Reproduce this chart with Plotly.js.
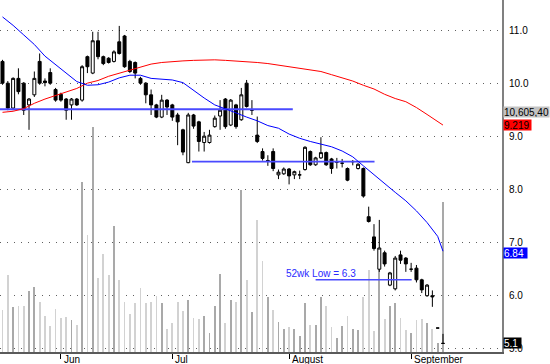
<!DOCTYPE html>
<html>
<head>
<meta charset="utf-8">
<script src="https://cdn.plot.ly/plotly-3.0.1.min.js"></script>
<style>
html,body{margin:0;padding:0;background:#fff;}
#chart{width:550px;height:364px;}
</style>
</head>
<body>
<div id="chart"></div>
<script>
// ---- data (trading-day index 0..83) ----
const openP  = [10.42,10.01,9.54,10.10,10.01,9.60,9.79,10.42,10.05,10.21,9.89,9.80,9.71,9.60,9.71,9.69,10.51,10.20,10.81,10.51,10.48,10.42,10.79,10.90,10.42,10.40,10.10,10.01,9.79,9.60,9.37,9.69,9.60,9.41,9.13,8.51,9.41,9.28,8.89,8.89,9.19,9.39,9.71,9.22,9.60,9.32,10.01,9.50,9.03,8.72,8.55,8.72,8.28,8.30,8.39,8.28,8.28,8.38,8.72,8.47,8.60,8.70,8.58,8.52,8.50,8.40,8.53,8.40,8.40,7.49,7.11,6.50,6.81,6.20,6.13,6.77,6.71,6.50,6.52,6.30,6.00,6.00,5.39,5.10];
const highP  = [10.45,10.05,10.12,10.29,10.03,9.73,10.23,10.57,10.10,10.29,9.92,9.83,9.73,9.73,9.73,10.35,10.53,10.98,10.98,10.53,10.50,10.63,11.09,10.92,10.45,10.42,10.13,10.03,9.89,9.62,9.79,9.71,9.62,9.45,9.15,9.45,9.43,9.30,9.09,9.13,9.40,9.69,9.73,9.71,9.62,9.92,10.07,9.69,9.38,8.78,8.65,8.78,8.38,8.42,8.41,8.36,8.36,8.82,8.74,8.62,8.99,8.72,8.60,8.60,8.58,8.42,8.56,8.50,8.42,7.68,7.35,7.43,6.85,6.45,6.75,6.85,6.73,6.62,6.58,6.32,6.22,6.10,5.39,5.28];
const lowP   = [9.98,9.50,9.50,9.80,9.41,9.13,9.75,9.98,9.95,9.98,9.66,9.66,9.32,9.32,9.58,9.66,10.20,10.18,10.46,10.35,10.38,10.40,10.55,10.30,10.20,10.10,9.98,9.63,9.41,9.35,9.35,9.41,9.30,8.84,8.65,8.50,9.15,8.72,8.72,8.87,9.17,9.13,9.15,9.20,9.15,9.30,9.55,9.41,8.88,8.55,8.45,8.35,8.20,8.28,8.10,8.20,8.20,8.36,8.45,8.45,8.58,8.45,8.30,8.40,8.42,8.16,8.46,8.38,7.85,7.38,6.85,6.45,6.55,6.18,6.10,6.60,6.45,6.45,6.25,6.05,5.98,5.79,5.39,5.10];
const closeP = [10.01,9.54,10.10,9.85,9.50,9.71,10.10,10.01,10.02,10.01,9.69,9.69,9.50,9.71,9.60,10.32,10.32,10.81,10.51,10.38,10.40,10.60,10.57,10.32,10.23,10.20,10.01,9.79,9.60,9.37,9.69,9.56,9.37,9.28,8.71,9.41,9.20,8.91,9.01,9.03,9.35,9.50,9.19,9.69,9.19,9.79,9.57,9.50,8.91,8.59,8.55,8.40,8.33,8.39,8.26,8.34,8.28,8.80,8.47,8.60,8.70,8.47,8.40,8.52,8.50,8.18,8.53,8.48,7.88,7.40,6.89,6.90,6.60,6.43,6.71,6.67,6.60,6.50,6.30,6.11,6.20,5.98,5.39,5.10];
// volume, millions of shares
const volume = [2.97,5.44,3.18,3.25,3.25,4.31,4.60,3.54,2.55,1.84,3.04,2.40,2.47,2.26,1.91,12.02,8.27,15.91,5.23,6.93,5.44,8.91,5.09,3.54,2.69,3.46,4.52,3.46,3.54,3.96,3.46,1.63,2.05,3.54,2.90,3.68,2.40,2.33,2.55,1.34,3.25,5.51,2.05,3.68,3.54,11.45,5.09,2.83,9.33,6.43,3.89,2.97,2.12,1.63,1.77,1.63,1.13,3.46,1.91,1.91,3.89,3.25,1.77,0.99,1.84,2.55,1.63,1.56,3.89,5.80,1.48,6.50,2.33,3.25,3.46,2.40,1.56,1.34,2.26,2.33,2.05,1.63,0.64,10.61];
// moving averages read at these day indices
const maIdx  = [0,2,4,6,8,10,12,14,16,18,20,22,24,26,28,30,32,34,36,38,40,42,44,46,48,50,52,54,56,58,60,62,64,66,68,70,72,74,76,78,80,82,83];
const maFast = [11.26,11.10,10.92,10.74,10.52,10.36,10.21,10.04,9.97,9.98,10.03,10.11,10.16,10.16,10.10,10.08,10.07,10.02,9.87,9.73,9.60,9.53,9.45,9.37,9.30,9.21,9.16,9.05,8.97,8.91,8.86,8.81,8.73,8.62,8.45,8.28,8.11,7.95,7.79,7.60,7.38,7.12,6.84];
const maSlow = [9.46,9.48,9.53,9.63,9.71,9.78,9.84,9.91,10.01,10.06,10.14,10.20,10.26,10.32,10.37,10.40,10.42,10.43,10.44,10.45,10.45,10.44,10.43,10.42,10.40,10.38,10.35,10.31,10.28,10.26,10.23,10.17,10.11,10.05,9.97,9.90,9.80,9.72,9.66,9.55,9.42,9.29,9.219];
// horizontal support levels (price, first day, last day)
const levelPrice = [9.52, 8.53, 6.3];
const levelStart = [-0.5, 35.7, 59.0];
const levelEnd   = [54.7, 70.1, 77.1];
// month ticks
const monthIdx    = [11, 32, 54, 77];
const monthLabels = ['Jun', 'Jul', 'August', 'September'];
// price axis ticks
const priceTicks = [5, 6, 7, 8, 9, 10, 11];
const lastVolumeText = '10,605,40';
const lowLabel = '52wk Low = 6.3';

// ---- build ----
const idx = closeP.map((_, i) => i);
const volColors = closeP.map((c, i) => c >= openP[i] ? '#a9a9a9' : '#d2d2d2');

const traces = [];
traces.push({
  type: 'bar', x: idx, y: volume, xaxis: 'x', yaxis: 'y',
  width: 0.34, marker: {color: volColors, line: {width: 0}},
  hoverinfo: 'skip', showlegend: false
});
levelPrice.forEach((p, k) => {
  traces.push({
    type: 'scatter', mode: 'lines', x: [levelStart[k], levelEnd[k]], y: [p, p],
    xaxis: 'x', yaxis: 'y2', line: {color: '#4a4aff', width: k === 0 ? 2 : 1.6},
    hoverinfo: 'skip', showlegend: false
  });
});
traces.push({
  type: 'scatter', mode: 'lines', x: maIdx, y: maSlow, xaxis: 'x', yaxis: 'y2',
  line: {color: '#ff0000', width: 1}, hoverinfo: 'skip', showlegend: false
});
traces.push({
  type: 'scatter', mode: 'lines', x: maIdx, y: maFast, xaxis: 'x', yaxis: 'y2',
  line: {color: '#0000ff', width: 1}, hoverinfo: 'skip', showlegend: false
});
traces.push({
  type: 'candlestick', x: idx, open: openP, high: highP, low: lowP, close: closeP,
  xaxis: 'x', yaxis: 'y2', whiskerwidth: 0,
  increasing: {line: {color: '#000000', width: 1}, fillcolor: '#ffffff'},
  decreasing: {line: {color: '#000000', width: 1}, fillcolor: '#000000'},
  hoverinfo: 'skip', showlegend: false
});

const FONT = 'Liberation Sans, Arial, sans-serif';
const lastI = closeP.length - 1;
const annotations = monthLabels.map((t, k) => ({
  x: monthIdx[k], xref: 'x', y: 0, yref: 'paper', yanchor: 'top', xanchor: 'left',
  xshift: 1, yshift: 0, text: t, showarrow: false, font: {family: FONT, size: 10, color: '#000'}
}));
annotations.push({
  x: 53.0, xref: 'x', y: 6.41, yref: 'y2', xanchor: 'left', yanchor: 'middle',
  text: lowLabel, showarrow: false, font: {family: FONT, size: 10, color: '#2a2aff'}
});
function tag(text, yval, bg, fg, w) {
  return {x: 1, xref: 'paper', y: yval, yref: 'y2', xanchor: 'left', yanchor: 'middle',
    xshift: 1, text: text, showarrow: false, bgcolor: bg, borderpad: 0, width: w, height: 10,
    align: 'left', valign: 'middle', font: {family: FONT, size: 10, color: fg}};
}
annotations.push(tag(lastVolumeText, 9.466, '#c3c3c3', '#000', 45));
annotations.push(tag(maSlow[maSlow.length - 1].toFixed(3), 9.22, '#ff0000', '#000', 27));
annotations.push(tag(maFast[maFast.length - 1].toFixed(2), 6.80, '#0000ff', '#fff', 23));
annotations.push(tag(closeP[lastI].toFixed(1), 5.10, '#000000', '#fff', 17));

const layout = {
  width: 550, height: 364,
  margin: {l: 0, r: 48, t: 0, b: 12, pad: 0},
  paper_bgcolor: '#ffffff', plot_bgcolor: '#ffffff',
  showlegend: false, boxgap: 0.2, bargap: 0,
  font: {family: FONT, size: 10, color: '#000'},
  xaxis: {
    range: [-0.471, 94.12], tickmode: 'array', tickvals: monthIdx, ticktext: monthLabels,
    showticklabels: false, ticks: 'outside', ticklen: 5, tickwidth: 1, tickcolor: '#000',
    showgrid: false, zeroline: false, showline: true, linecolor: '#5a5a5a', linewidth: 2,
    rangeslider: {visible: false}, fixedrange: true
  },
  yaxis: {
    range: [0, 24.89], visible: false, showgrid: false, zeroline: false, fixedrange: true
  },
  yaxis2: {
    overlaying: 'y', side: 'right', range: [4.938, 11.579],
    tickmode: 'array', tickvals: priceTicks, ticktext: priceTicks.map(v => v.toFixed(1)),
    ticks: '', ticklabelstandoff: 3,
    showgrid: true, gridcolor: '#606060', gridwidth: 1, griddash: '1px,6px',
    zeroline: false, showline: true, linecolor: '#808080', linewidth: 2,
    tickfont: {family: FONT, size: 10, color: '#000'}, fixedrange: true
  },
  annotations: annotations
};

Plotly.newPlot('chart', traces, layout, {displayModeBar: false, staticPlot: true});
</script>
</body>
</html>
